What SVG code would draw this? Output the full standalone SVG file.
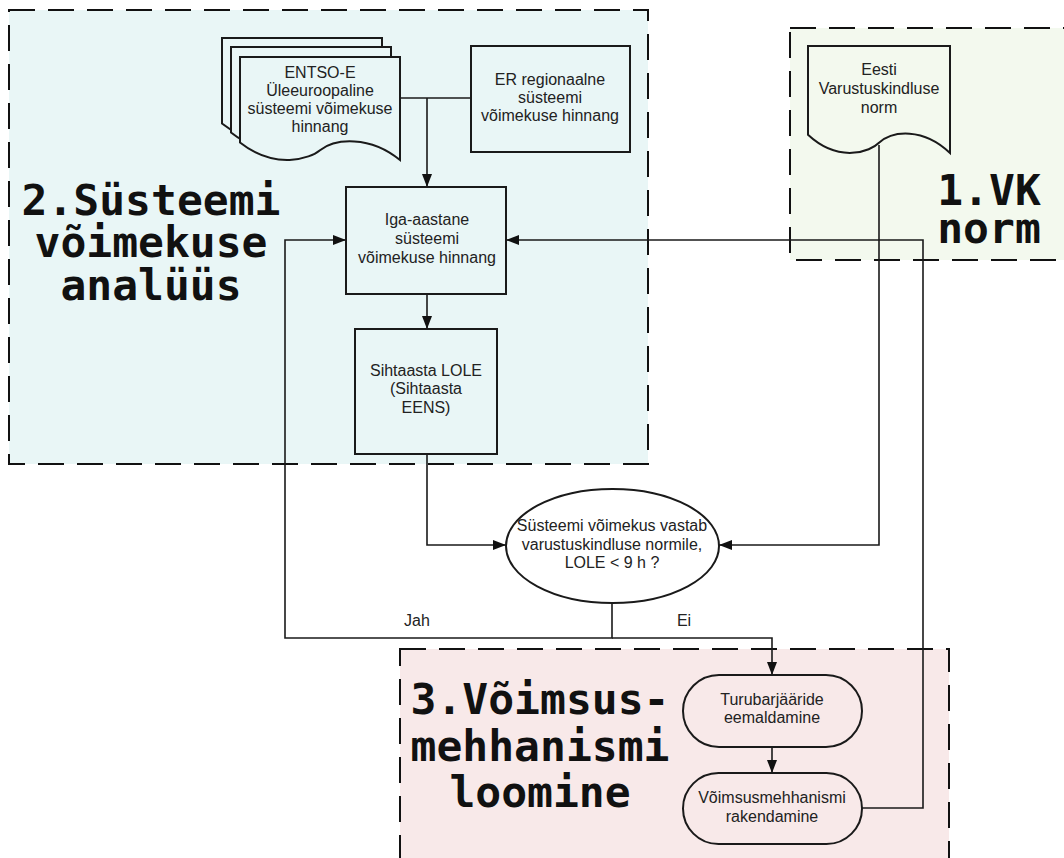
<svg xmlns="http://www.w3.org/2000/svg" width="1064" height="858" viewBox="0 0 1064 858">
<style>
.grp{stroke:#111;stroke-width:2;stroke-dasharray:26 13;}
.node{stroke:#1a1a1a;stroke-width:2;}
.t{font-family:"Liberation Sans",Arial,sans-serif;font-size:16px;fill:#222;text-anchor:middle;}
.big{font-family:"DejaVu Sans Mono","Liberation Mono",monospace;font-size:43px;font-weight:bold;fill:#111;text-anchor:middle;}
.c{fill:none;stroke:#1a1a1a;stroke-width:1.6;}
.a{marker-end:url(#arr);}
</style>
<defs>
<marker id="arr" markerUnits="userSpaceOnUse" markerWidth="14" markerHeight="12" refX="13" refY="5" orient="auto">
<path d="M0,0 L13,5 L0,10 Z" fill="#111"/>
</marker>
<path id="doc" d="M0,0 H160 V103 C130,78.3 95,81.4 80,93.2 C70.4,101.5 35.2,113.3 0,85.5 Z"/>
</defs>
<rect width="1064" height="858" fill="#ffffff"/>
<g id="group2">
<rect class="grp" x="9" y="10" width="639" height="454" fill="#e9f6f6"/>
<text class="big" x="151" y="215">2.Süsteemi</text>
<text class="big" x="151" y="257">võimekuse</text>
<text class="big" x="151" y="300">analüüs</text>
</g>
<g id="group1">
<rect class="grp" x="790" y="28" width="290" height="232" fill="#f3f9ee"/>
<text class="big" x="989" y="205">1.VK</text>
<text class="big" x="989" y="243">norm</text>
</g>
<g id="group3">
<rect class="grp" x="400" y="649" width="549" height="220" fill="#f8e9e9"/>
<text class="big" x="540" y="714">3.Võimsus-</text>
<text class="big" x="540" y="761">mehhanismi</text>
<text class="big" x="540" y="807">loomine</text>
</g>
<g id="connectors">
<path class="c" d="M400,98 H471"/>
<path class="c a" d="M427,98 V187"/>
<path class="c a" d="M427,294 V329"/>
<path class="c a" d="M427,454 V545 H506"/>
<path class="c a" d="M879,145 V545 H719"/>
<path class="c a" d="M612,603 V638 H285 V240 H346"/>
<path class="c a" d="M612,638 H772 V675"/>
<path class="c a" d="M772,747 V773"/>
<path class="c a" d="M862,808 H923 V240 H506"/>
</g>
<g id="entsoe">
<use href="#doc" x="222" y="38" class="node" fill="#e9f6f6"/>
<use href="#doc" x="231" y="47" class="node" fill="#e9f6f6"/>
<use href="#doc" x="240" y="57" class="node" fill="#e9f6f6"/>
<text class="t" x="320" y="78">ENTSO-E</text>
<text class="t" x="320" y="96">Üleeuroopaline</text>
<text class="t" x="320" y="114">süsteemi võimekuse</text>
<text class="t" x="320" y="132">hinnang</text>
</g>
<g id="er">
<rect class="node" x="471" y="46" width="159" height="106" fill="#e9f6f6"/>
<text class="t" x="550" y="85">ER regionaalne</text>
<text class="t" x="550" y="103">süsteemi</text>
<text class="t" x="550" y="121">võimekuse hinnang</text>
</g>
<g id="eesti">
<path class="node" fill="#f3f9ee" d="M808,46 H950 V153 C923.4,127.3 892.3,130.5 879,142.8 C870.5,151.4 839.2,163.7 808,134.8 Z"/>
<text class="t" x="879" y="75">Eesti</text>
<text class="t" x="879" y="94">Varustuskindluse</text>
<text class="t" x="879" y="113">norm</text>
</g>
<g id="iga">
<rect class="node" x="346" y="187" width="160" height="107" fill="#e9f6f6"/>
<text class="t" x="427" y="225">Iga-aastane</text>
<text class="t" x="427" y="244">süsteemi</text>
<text class="t" x="427" y="263">võimekuse hinnang</text>
</g>
<g id="sihtaasta">
<rect class="node" x="355" y="329" width="142" height="125" fill="#e9f6f6"/>
<text class="t" x="426" y="376">Sihtaasta LOLE</text>
<text class="t" x="426" y="394">(Sihtaasta</text>
<text class="t" x="426" y="413">EENS)</text>
</g>
<g id="decision">
<ellipse class="node" cx="612.5" cy="546" rx="106.5" ry="57" fill="#ffffff"/>
<text class="t" x="612" y="531">Süsteemi võimekus vastab</text>
<text class="t" x="612" y="550">varustuskindluse normile,</text>
<text class="t" x="612" y="568">LOLE &lt; 9 h ?</text>
</g>
<g id="labels">
<text class="t" x="417" y="626">Jah</text>
<text class="t" x="684" y="626">Ei</text>
</g>
<g id="turu">
<rect class="node" x="683" y="675" width="179" height="72" rx="36" fill="#f8e9e9"/>
<text class="t" x="772" y="705">Turubarjääride</text>
<text class="t" x="772" y="723">eemaldamine</text>
</g>
<g id="voimsus">
<rect class="node" x="683" y="773" width="179" height="71" rx="35.5" fill="#f8e9e9"/>
<text class="t" x="772" y="803">Võimsusmehhanismi</text>
<text class="t" x="772" y="822">rakendamine</text>
</g>
</svg>
